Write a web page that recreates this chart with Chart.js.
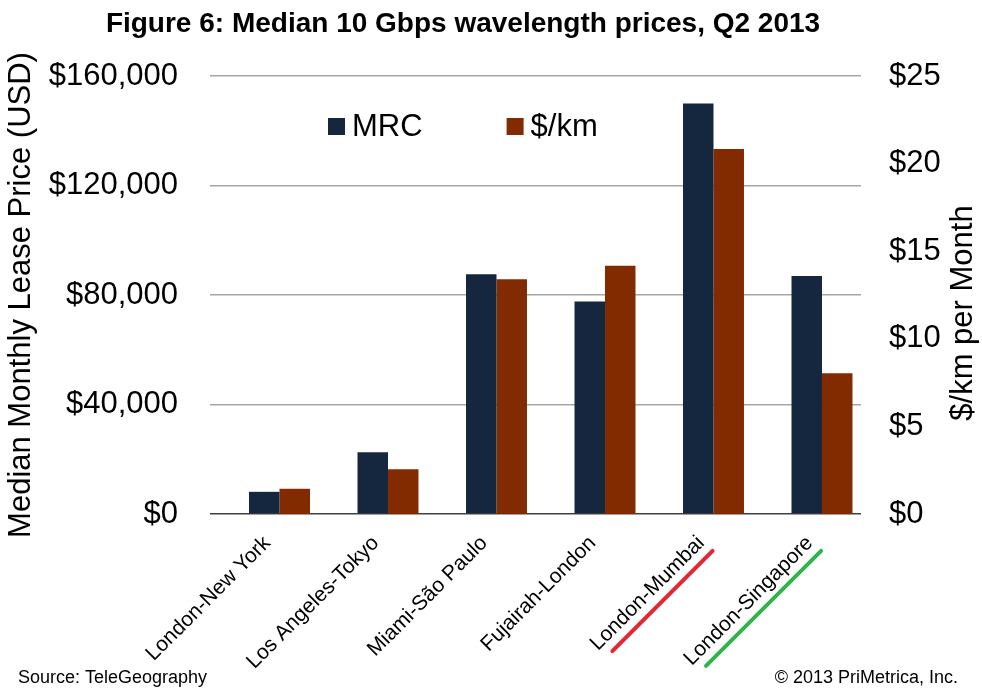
<!DOCTYPE html>
<html>
<head>
<meta charset="utf-8">
<script src="https://cdn.jsdelivr.net/npm/chart.js@4.4.0/dist/chart.umd.min.js"></script>
<style>
  html, body { margin: 0; padding: 0; background: #fff; }
  #wrap { width: 982px; height: 688px; }
</style>
</head>
<body>
<div id="wrap"><canvas id="chart"></canvas></div>
<script>
const routes = ['London-New York', 'Los Angeles-Tokyo', 'Miami-São Paulo', 'Fujairah-London', 'London-Mumbai', 'London-Singapore'];
const mrc = [8100, 22600, 87600, 77600, 150000, 86900];
const perKm = [1.44, 2.55, 13.4, 14.17, 20.83, 8.03];
const leftTicks = [0, 40000, 80000, 120000, 160000];
const rightTicks = [0, 5, 10, 15, 20, 25];

const FONT = '"Liberation Sans", Arial, sans-serif';
const titleText = 'Figure 6: Median 10 Gbps wavelength prices, Q2 2013';
const rightTitle = '$/km per Month';
const sourceText = 'Source: TeleGeography';
const creditText = '\u00a9 2013 PriMetrica, Inc.';
// routes marked with a coloured stroke under the label
const highlight = { 'London-Mumbai': '#ea2330', 'London-Singapore': '#30b44a' };

Chart.defaults.font.family = FONT;
Chart.defaults.color = '#000';

const decorations = {
  id: 'decorations',
  afterDraw(chart) {
    const { ctx, chartArea: area, scales: { x } } = chart;
    ctx.save();
    ctx.fillStyle = '#000';

    // title
    ctx.font = 'bold 28px ' + FONT;
    ctx.textAlign = 'center';
    ctx.textBaseline = 'alphabetic';
    ctx.fillText(titleText, 463, 32);

    // legend inside the plot
    ctx.font = '31px ' + FONT;
    ctx.textAlign = 'left';
    ctx.textBaseline = 'middle';
    let lx = area.left + 118;
    const ly = area.top + 51;
    chart.data.datasets.filter(d => d.label).forEach(d => {
      ctx.fillStyle = d.backgroundColor;
      ctx.fillRect(lx, ly - 9, 17, 17);
      ctx.fillStyle = '#000';
      ctx.fillText(d.label, lx + 24, ly);
      lx += 24 + ctx.measureText(d.label).width + 84;
    });

    // right axis title, reading bottom to top
    ctx.save();
    ctx.translate(963, 313);
    ctx.rotate(-Math.PI / 2);
    ctx.textAlign = 'center';
    ctx.fillText(rightTitle, 0, 0);
    ctx.restore();

    // footer
    ctx.font = '18px ' + FONT;
    ctx.textBaseline = 'alphabetic';
    ctx.textAlign = 'left';
    ctx.fillText(sourceText, 18, 683);
    ctx.textAlign = 'right';
    ctx.fillText(creditText, 958, 683);

    // coloured strokes under highlighted labels
    const tOpts = x.options.ticks;
    const tickFont = Chart.helpers.toFont(tOpts.font);
    ctx.font = tickFont.string;
    routes.forEach((label, i) => {
      const color = highlight[label];
      if (!color) return;
      const w = ctx.measureText(label).width;
      const v = tickFont.lineHeight / 2 + tickFont.size * 0.45;
      ctx.save();
      ctx.translate(x.getPixelForTick(i) + tOpts.labelOffset, x.top + tOpts.padding);
      ctx.rotate(-Math.PI / 4);
      ctx.strokeStyle = color;
      ctx.lineWidth = 4;
      ctx.lineCap = 'round';
      ctx.beginPath();
      ctx.moveTo(-w + 4, v);
      ctx.lineTo(-6, v);
      ctx.stroke();
      ctx.restore();
    });
    ctx.restore();
  }
};

new Chart(document.getElementById('chart'), {
  type: 'bar',
  data: {
    labels: routes,
    datasets: [
      // empty slot so the bar pair sits right of the tick, as in the original
      { label: '', data: routes.map(() => null), yAxisID: 'y' },
      { label: 'MRC', data: mrc, backgroundColor: '#14273f', yAxisID: 'y' },
      { label: '$/km', data: perKm, backgroundColor: '#832b00', yAxisID: 'y2' }
    ]
  },
  options: {
    responsive: true,
    maintainAspectRatio: false,
    animation: false,
    layout: { padding: { top: 76 } },
    datasets: { bar: { categoryPercentage: 0.843, barPercentage: 1 } },
    plugins: {
      legend: { display: false },
      title: { display: false },
      tooltip: { enabled: false }
    },
    scales: {
      x: {
        grid: { display: false, drawTicks: false },
        border: { display: false },
        ticks: { minRotation: 45, maxRotation: 45, autoSkip: false, padding: 17, labelOffset: 3, font: { size: 21 } },
        afterFit: s => { s.height = 174; }
      },
      y: {
        position: 'left',
        min: 0,
        max: 160000,
        afterBuildTicks: s => { s.ticks = leftTicks.map(v => ({ value: v })); },
        ticks: { padding: 32, font: { size: 31 }, callback: v => '$' + v.toLocaleString('en-US') },
        grid: {
          drawTicks: false,
          lineWidth: 1.5,
          color: c => (c.tick && c.tick.value === 0) ? '#404040' : '#a6a6a6'
        },
        border: { display: false },
        title: { display: true, text: 'Median Monthly Lease Price (USD)', font: { size: 31 }, padding: { top: 3 } },
        afterFit: s => { s.width = 210; }
      },
      y2: {
        position: 'right',
        min: 0,
        max: 25,
        afterBuildTicks: s => { s.ticks = rightTicks.map(v => ({ value: v })); },
        ticks: { padding: 28, font: { size: 31 }, callback: v => '$' + v },
        grid: { display: false, drawTicks: false },
        border: { display: false },
        afterFit: s => { s.width = 121; }
      }
    }
  },
  plugins: [decorations]
});
</script>
</body>
</html>
